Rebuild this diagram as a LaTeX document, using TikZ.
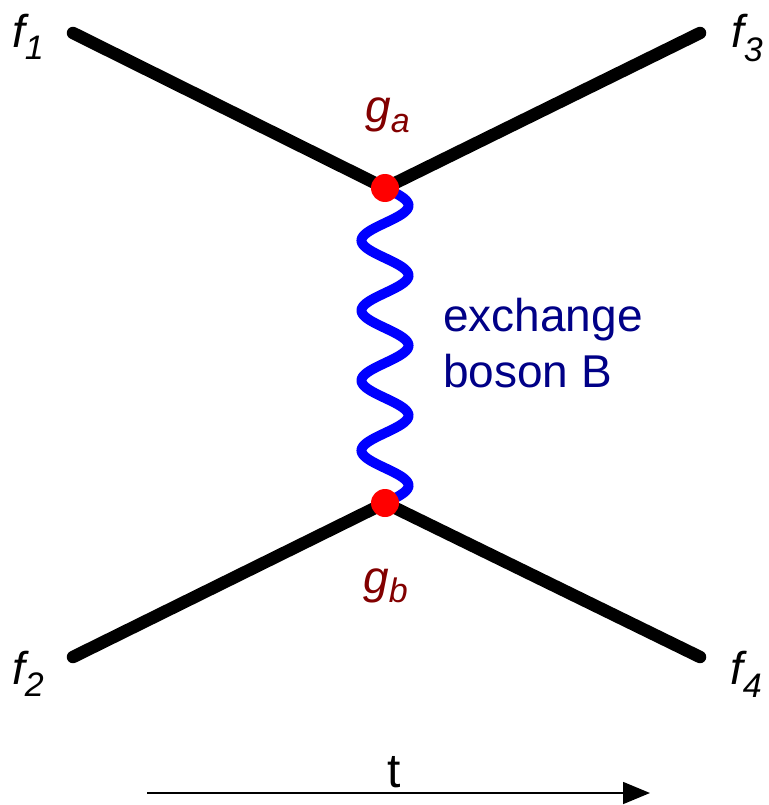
\documentclass[tikz,border=0pt]{standalone}
\usepackage{fontspec}
\setmainfont{Liberation Sans}
\usetikzlibrary{arrows.meta}
\definecolor{gred}{RGB}{130,0,0}
\definecolor{bosontext}{RGB}{0,0,135}
\definecolor{bosonblue}{RGB}{0,0,255}
\definecolor{dotred}{RGB}{255,0,0}
\newcommand{\fsub}[3]{{\itshape #1\raisebox{-#3pt}{\fontsize{34}{34}\selectfont #2}}}
\begin{document}
\begin{tikzpicture}[x=1pt,y=-1pt,
  fline/.style={line width=12.5pt,line cap=round,black},
  wave/.style={line width=10pt,bosonblue,line cap=round},
  vdot/.style={circle,fill=dotred,inner sep=0pt,minimum size=28pt},
  lbl/.style={anchor=base west,inner sep=0pt,font=\fontsize{46}{52}\selectfont},
  btext/.style={anchor=base west,inner sep=0pt,text=bosontext,font=\fontsize{46}{55}\selectfont},
  tarrow/.style={line width=1.6pt,-{Triangle[length=27pt,width=22pt]}}]
\useasboundingbox (0,0) rectangle (768,805);
% vertices and line ends
\coordinate (va) at (385,188);
\coordinate (vb) at (385,503);
\coordinate (e1) at (73,33);
\coordinate (e3) at (700,33);
\coordinate (e2) at (73,657);
\coordinate (e4) at (700,657);
% fermion lines
\draw[fline] (e1) -- (va);
\draw[fline] (va) -- (e3);
\draw[fline] (e2) -- (vb);
\draw[fline] (vb) -- (e4);
% boson
\draw[wave] plot[domain=0:315,samples=241,smooth] ({385+23.5*sin(\x/35*180)},{188+\x});
% vertex dots
\node[vdot] (dota) at (va) {};
\node[vdot] (dotb) at (vb) {};
% labels
\node[lbl] (f1) at (12,48) {\fsub{f}{1}{12}};
\node[lbl] (f3) at (731,48) {\fsub{f}{3}{14}};
\node[lbl] (f2) at (12,684) {\fsub{f}{2}{12}};
\node[lbl] (f4) at (730,684) {\fsub{f}{4}{13}};
\node[lbl,text=gred] (ga) at (365,123) {\fsub{g}{a}{10}};
\node[lbl,text=gred] (gb) at (363,593) {\fsub{g}{b}{9}};
\node[btext] (ex1) at (443,331) {exchange};
\node[btext] (ex2) at (443,387) {boson B};
% time arrow
\coordinate (ts) at (147,793);
\coordinate (te) at (650,793);
\draw[tarrow] (ts) -- (te);
\node[anchor=base,inner sep=0pt,font=\fontsize{48}{50}\selectfont] (t) at (394,787) {t};
\end{tikzpicture}
\end{document}
